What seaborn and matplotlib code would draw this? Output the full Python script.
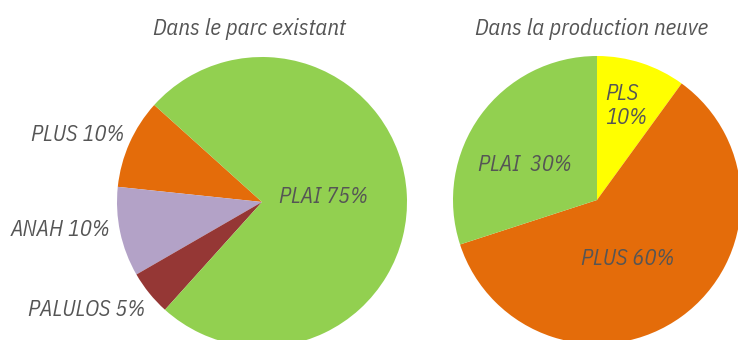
import matplotlib
matplotlib.use("Agg")
import matplotlib.pyplot as plt
import seaborn as sns

# Parc existant
parc_labels = ["PLUS", "ANAH", "PALULOS", "PLAI"]
parc_values = [10, 10, 5, 75]
parc_colors = ["#E46C0A", "#B3A2C7", "#953735", "#92D050"]

# Production neuve
neuve_labels = ["PLS", "PLUS", "PLAI"]
neuve_values = [10, 60, 30]
neuve_colors = ["#FFFF00", "#E46C0A", "#92D050"]

titles = ["Dans le parc existant", "Dans la production neuve"]

sns.set_theme(style="white")
plt.rcParams["font.family"] = ["IBM Plex Sans Condensed", "DejaVu Sans"]

W, H = 738, 340
fig = plt.figure(figsize=(W / 100, H / 100), dpi=100)
ax = fig.add_axes([0, 0, 1, 1])

ax.pie(parc_values, colors=parc_colors, startangle=138, counterclock=True,
       center=(262, 138), radius=145, wedgeprops=dict(linewidth=0))
ax.pie(neuve_values, colors=neuve_colors, startangle=90, counterclock=False,
       center=(597, 140), radius=144, wedgeprops=dict(linewidth=0))

ax.set_xlim(0, W)
ax.set_ylim(0, H)
ax.set_aspect("equal")
ax.axis("off")

txt = dict(color="#555555", style="italic", fontsize=16)

def py(y):
    return H - y

ax.text(249, py(29), titles[0], ha="center", va="center", **{**txt, "fontsize": 16.5})
ax.text(592, py(29), titles[1], ha="center", va="center", **{**txt, "fontsize": 16.5})

ax.text(124, py(135), f"{parc_labels[0]} {parc_values[0]}%", ha="right", va="center", **txt)
ax.text(110, py(230), f"{parc_labels[1]} {parc_values[1]}%", ha="right", va="center", **txt)
ax.text(145, py(310), f"{parc_labels[2]} {parc_values[2]}%", ha="right", va="center", **txt)
ax.text(323, py(197), f"{parc_labels[3]} {parc_values[3]}%", ha="center", va="center", **txt)

ax.text(605, py(106), f"{neuve_labels[0]}\n{neuve_values[0]}%", ha="left", va="center",
        linespacing=1.1, **txt)
ax.text(628, py(259), f"{neuve_labels[1]} {neuve_values[1]}%", ha="center", va="center", **txt)
ax.text(525, py(165), f"{neuve_labels[2]}  {neuve_values[2]}%", ha="center", va="center", **txt)

fig.savefig("out.png", dpi=100)
